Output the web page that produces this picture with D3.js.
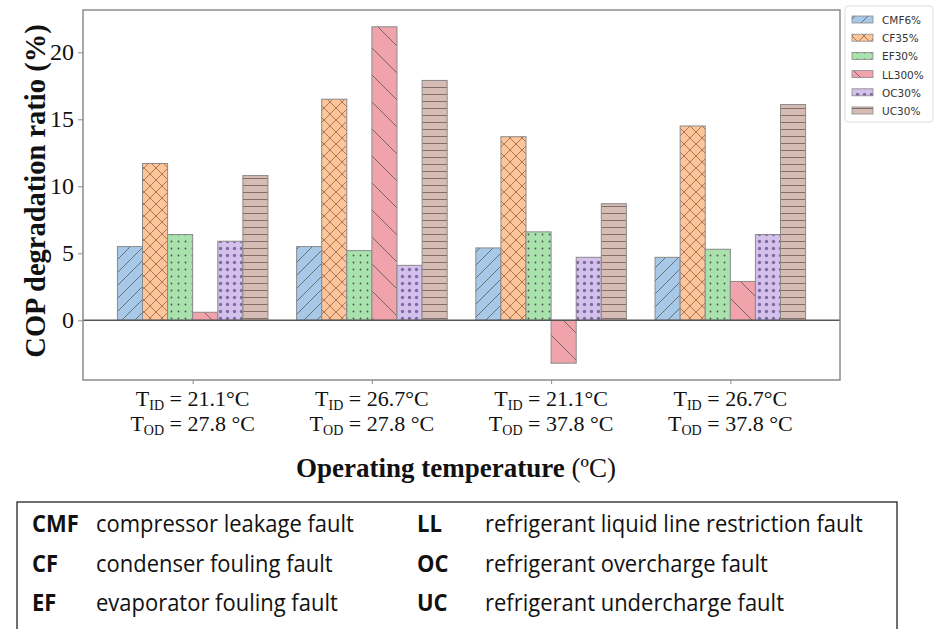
<!DOCTYPE html>
<html>
<head>
<meta charset="utf-8">
<script src="https://cdn.jsdelivr.net/npm/d3@7"></script>
<style>
  body { margin: 0; background: #fff; }
  svg { display: block; }
</style>
</head>
<body>
<div class="chart"></div>
<script>
// data
var tidLabels = ["21.1°C", "26.7°C", "21.1°C", "26.7°C"];
var todLabels = ["27.8 °C", "27.8 °C", "37.8 °C", "37.8 °C"];
var seriesNames = ["CMF6%", "CF35%", "EF30%", "LL300%", "OC30%", "UC30%"];
var cmfValues = [5.5, 5.5, 5.4, 4.7];
var cfValues = [11.7, 16.5, 13.7, 14.5];
var efValues = [6.4, 5.2, 6.6, 5.3];
var llValues = [0.6, 21.9, -3.2, 2.9];
var ocValues = [5.9, 4.1, 4.7, 6.4];
var ucValues = [10.8, 17.9, 8.7, 16.1];
var yTicks = [0, 5, 10, 15, 20];
var faultAbbr = ["CMF", "CF", "EF", "LL", "OC", "UC"];
var faultText = ["compressor leakage fault", "condenser fouling fault", "evaporator fouling fault",
  "refrigerant liquid line restriction fault", "refrigerant overcharge fault", "refrigerant undercharge fault"];

var allValues = [cmfValues, cfValues, efValues, llValues, ocValues, ucValues];
var colors = ["#a7c9e7", "#fdc599", "#a9e2ad", "#f0a3ab", "#d4c1eb", "#d5bdb5"];
var hatches = ["slash", "cross", "dot", "back", "circle", "hline"];

var svgWidth = 935;
var svgHeight = 629;
var plot = { left: 83, right: 840, top: 10, bottom: 380 };

var svg = d3.select(".chart")
  .append("svg")
  .attr("width", svgWidth)
  .attr("height", svgHeight);

// hatch patterns
var defs = svg.append("defs");
function makePattern(id, size, color, draw) {
  var p = defs.append("pattern")
    .attr("id", id + "-" + color.slice(1))
    .attr("patternUnits", "userSpaceOnUse")
    .attr("width", size)
    .attr("height", size);
  p.append("rect").attr("width", size).attr("height", size).attr("fill", color);
  draw(p, size);
}
var hatchStroke = "rgba(80,80,80,0.75)";
colors.forEach(function(c, i) {
  var h = hatches[i];
  if (h === "slash") {
    makePattern(h, 13, c, function(p, s) {
      p.append("path").attr("d", `M0,${s} L${s},0 M-2,2 L2,-2 M${s-2},${s+2} L${s+2},${s-2}`)
        .attr("stroke", hatchStroke).attr("stroke-width", 1);
    });
  } else if (h === "back") {
    makePattern(h, 27, c, function(p, s) {
      p.append("path").attr("d", `M0,0 L${s},${s} M-2,${s-2} L2,${s+2} M${s-2},-2 L${s+2},2`)
        .attr("stroke", hatchStroke).attr("stroke-width", 1);
    });
  } else if (h === "cross") {
    makePattern(h, 12, c, function(p, s) {
      p.append("path").attr("d", `M0,0 L${s},${s} M0,${s} L${s},0`)
        .attr("stroke", "rgba(150,100,70,0.8)").attr("stroke-width", 1);
    });
  } else if (h === "dot") {
    makePattern(h, 7, c, function(p, s) {
      p.append("circle").attr("cx", s / 2).attr("cy", s / 2).attr("r", 0.9)
        .attr("fill", "rgba(60,60,60,0.85)");
    });
  } else if (h === "circle") {
    makePattern(h, 7, c, function(p, s) {
      p.append("circle").attr("cx", s / 2).attr("cy", s / 2).attr("r", 1.7)
        .attr("fill", "rgba(110,90,150,0.85)");
    });
  } else if (h === "hline") {
    makePattern(h, 7, c, function(p, s) {
      p.append("line").attr("x1", 0).attr("x2", s).attr("y1", s / 2).attr("y2", s / 2)
        .attr("stroke", "rgba(120,95,90,0.85)").attr("stroke-width", 1);
    });
  }
});
function fillFor(i) { return "url(#" + hatches[i] + "-" + colors[i].slice(1) + ")"; }

// scales
var groupWidth = 0.84;
var xScale = d3.scaleLinear()
  .domain([-0.42 - 0.192, 3.42 + 0.192])
  .range([plot.left, plot.right]);
var barOffset = d3.scaleBand()
  .domain(seriesNames)
  .range([-groupWidth / 2, groupWidth / 2]);
var yMin = -3.2, yMax = 21.9, pad = (yMax - yMin) * 0.05;
var yScale = d3.scaleLinear()
  .domain([yMin - pad, yMax + pad])
  .range([plot.bottom, plot.top]);

// bars
allValues.forEach(function(vals, si) {
  svg.append("g").selectAll("rect")
    .data(vals)
    .enter()
    .append("rect")
    .attr("x", (d, gi) => xScale(gi + barOffset(seriesNames[si])))
    .attr("width", xScale(barOffset.bandwidth()) - xScale(0))
    .attr("y", d => yScale(Math.max(0, d)))
    .attr("height", d => Math.abs(yScale(d) - yScale(0)))
    .attr("fill", fillFor(si))
    .attr("stroke", "#8a8a8a")
    .attr("stroke-width", 1);
});

// zero line
svg.append("line")
  .attr("x1", plot.left).attr("x2", plot.right)
  .attr("y1", yScale(0)).attr("y2", yScale(0))
  .attr("stroke", "#555").attr("stroke-width", 1.5);

// frame
svg.append("rect")
  .attr("x", plot.left).attr("y", plot.top)
  .attr("width", plot.right - plot.left).attr("height", plot.bottom - plot.top)
  .attr("fill", "none").attr("stroke", "#8c8c8c").attr("stroke-width", 1.5);

// y axis
var leftAxis = d3.axisLeft(yScale).tickValues(yTicks).tickSize(5).tickPadding(4).tickFormat(d3.format("d"));
var yAxisG = svg.append("g")
  .attr("transform", `translate(${plot.left},0)`)
  .call(leftAxis);
yAxisG.select(".domain").remove();
yAxisG.selectAll(".tick line").attr("stroke", "#8c8c8c");
yAxisG.selectAll(".tick text")
  .attr("font-family", "'Liberation Serif', 'Times New Roman', serif")
  .attr("font-size", 24)
  .attr("fill", "#111");

// x axis ticks
var bottomAxis = d3.axisBottom(xScale).tickValues([0, 1, 2, 3]).tickSize(4).tickFormat("");
var xAxisG = svg.append("g")
  .attr("transform", `translate(0,${plot.bottom})`)
  .call(bottomAxis);
xAxisG.select(".domain").remove();
xAxisG.selectAll(".tick line").attr("stroke", "#8c8c8c");

// x tick labels with subscripts
var serif = "'Liberation Serif', 'Times New Roman', serif";
tidLabels.forEach(function(t, i) {
  var rows = [["T", "ID", " = " + t, 406], ["T", "OD", " = " + todLabels[i], 431]];
  rows.forEach(function(r) {
    var tx = svg.append("text")
      .attr("x", xScale(i)).attr("y", r[3])
      .attr("text-anchor", "middle")
      .attr("font-family", serif).attr("font-size", 22).attr("fill", "#111");
    tx.append("tspan").text(r[0]);
    tx.append("tspan").attr("font-size", 14).attr("dy", 4).text(r[1]);
    tx.append("tspan").attr("dy", -4).text(r[2]);
  });
});

// axis titles
svg.append("text")
  .attr("transform", "translate(45,191) rotate(-90)")
  .attr("text-anchor", "middle")
  .attr("font-family", serif).attr("font-size", 28.5).attr("font-weight", "bold")
  .attr("fill", "#111")
  .text("COP degradation ratio (%)");

var xTitle = svg.append("text")
  .attr("x", 456).attr("y", 477)
  .attr("text-anchor", "middle")
  .attr("font-family", serif).attr("font-size", 27).attr("fill", "#111");
xTitle.append("tspan").attr("font-weight", "bold").text("Operating temperature");
xTitle.append("tspan").text(" (ºC)");

// legend
var legend = svg.append("g");
legend.append("rect")
  .attr("x", 845).attr("y", 6).attr("width", 88).attr("height", 116).attr("rx", 3)
  .attr("fill", "#fff").attr("stroke", "#ddd").attr("stroke-width", 1);
var legendRow = d3.scaleLinear().domain([0, 5]).range([20, 111]);
seriesNames.forEach(function(name, i) {
  legend.append("rect")
    .attr("x", 852).attr("y", legendRow(i) - 4).attr("width", 21).attr("height", 7)
    .attr("fill", fillFor(i)).attr("stroke", "#8a8a8a").attr("stroke-width", 0.8);
  legend.append("text")
    .attr("x", 882).attr("y", legendRow(i) + 4)
    .attr("font-family", "'DejaVu Sans', sans-serif").attr("font-size", 10.5)
    .attr("fill", "#333")
    .text(name);
});

// abbreviation key box
svg.append("rect")
  .attr("x", 17).attr("y", 502).attr("width", 880).attr("height", 140)
  .attr("fill", "#fff").attr("stroke", "#111").attr("stroke-width", 1.2);
var keyFont = "'Open Sans', 'Noto Sans', sans-serif";
var keySize = 23;
var probe = svg.append("text").attr("font-family", keyFont).attr("font-size", keySize)
  .text(faultText[3]);
var squeeze = 378 / probe.node().getComputedTextLength();
probe.remove();
var keyRow = [532, 572, 611];
faultAbbr.forEach(function(a, i) {
  var col = Math.floor(i / 3), row = i % 3;
  var ax = col === 0 ? 32 : 417, dx = col === 0 ? 96 : 485;
  svg.append("text")
    .attr("transform", `translate(${ax},${keyRow[row]}) scale(${squeeze},1)`)
    .attr("font-family", keyFont).attr("font-size", keySize).attr("font-weight", "bold")
    .attr("fill", "#111").text(a);
  svg.append("text")
    .attr("transform", `translate(${dx},${keyRow[row]}) scale(${squeeze},1)`)
    .attr("font-family", keyFont).attr("font-size", keySize)
    .attr("fill", "#111").text(faultText[i]);
});
</script>
</body>
</html>
